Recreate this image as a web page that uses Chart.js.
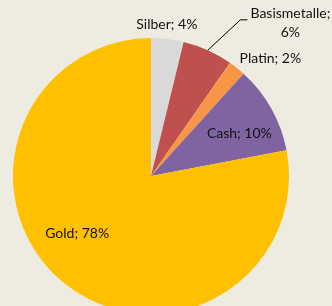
<!DOCTYPE html>
<html>
<head>
<meta charset="utf-8">
<script src="https://cdn.jsdelivr.net/npm/chart.js@4/dist/chart.umd.min.js"></script>
<style>
  html, body { margin: 0; padding: 0; background: #eeece1; overflow: hidden; }
  #wrap { width: 332px; height: 306px; overflow: hidden; position: relative; }
  canvas { display: block; }
</style>
</head>
<body>
<div id="wrap"><canvas id="c" width="332" height="330"></canvas></div>
<script>
const categories = ["Silber", "Basismetalle", "Platin", "Cash", "Gold"];
const shares = [3.8, 5.9, 2.0, 10.3, 78.0];
const shareLabels = ["4%", "6%", "2%", "10%", "78%"];
const sliceColors = ["#d9d9d9", "#c0504d", "#f79646", "#8064a2", "#ffc000"];

// label placement relative to pie centre, in units of the radius (x right, y down)
const labelPlacement = [
  { dx: 0.115, dy: -1.10 },
  { dx: 1.01, dy: -1.11, lines: true },
  { dx: 0.865, dy: -0.855 },
  { dx: 0.64, dy: -0.31 },
  { dx: -0.535, dy: 0.42 }
];

const labelPlugin = {
  id: 'pieLabels',
  afterDatasetsDraw(chart) {
    const ctx = chart.ctx;
    const meta = chart.getDatasetMeta(0);
    ctx.save();
    ctx.font = '14px Lato, "Liberation Sans", sans-serif';
    ctx.fillStyle = '#111';
    ctx.textAlign = 'center';
    ctx.textBaseline = 'middle';
    meta.data.forEach((arc, i) => {
      const p = arc.getProps(['x', 'y', 'outerRadius', 'startAngle', 'endAngle'], true);
      const R = p.outerRadius;
      const pl = labelPlacement[i];
      const lx = p.x + pl.dx * R;
      const ly = p.y + pl.dy * R;
      if (pl.lines) {
        ctx.fillText(categories[i] + ';', lx, ly - 9.5);
        ctx.fillText(shareLabels[i], lx, ly + 9.5);
        const mid = (p.startAngle + p.endAngle) / 2;
        const sx = p.x + Math.cos(mid) * R;
        const sy = p.y + Math.sin(mid) * R;
        ctx.beginPath();
        ctx.strokeStyle = '#000';
        ctx.lineWidth = 1;
        ctx.moveTo(sx, sy);
        ctx.lineTo(lx - 50, ly - 3);
        ctx.lineTo(lx - 43, ly - 3);
        ctx.stroke();
      } else {
        ctx.fillText(categories[i] + '; ' + shareLabels[i], lx, ly);
      }
    });
    ctx.restore();
  }
};

new Chart(document.getElementById('c'), {
  type: 'pie',
  data: {
    labels: categories,
    datasets: [{
      data: shares,
      backgroundColor: sliceColors,
      borderWidth: 0
    }]
  },
  options: {
    responsive: false,
    animation: false,
    layout: { padding: { left: 13, right: 43, top: 38, bottom: 16 } },
    plugins: {
      legend: { display: false },
      tooltip: { enabled: false }
    }
  },
  plugins: [labelPlugin]
});
</script>
</body>
</html>
